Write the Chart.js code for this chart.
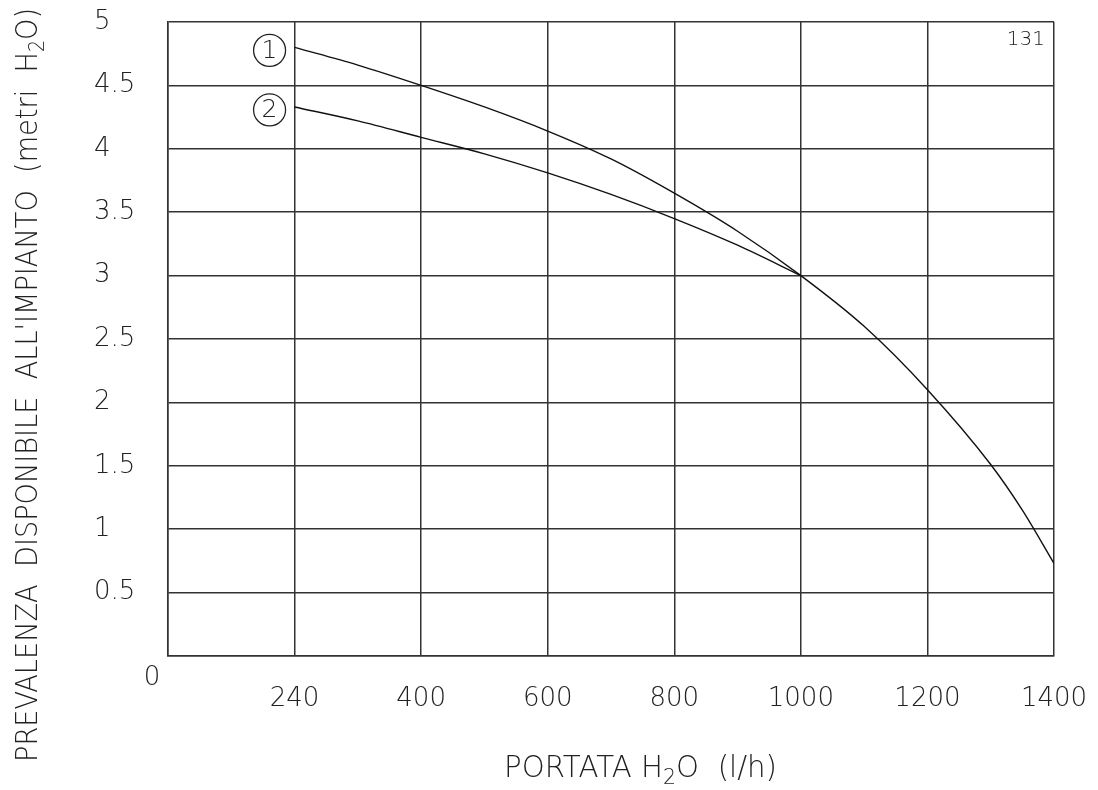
<!DOCTYPE html>
<html>
<head>
<meta charset="utf-8">
<script src="https://cdn.jsdelivr.net/npm/chart.js@4.4.1/dist/chart.umd.min.js"></script>
<style>
  html, body { margin: 0; padding: 0; background: #fff; }
  #wrap { width: 1098px; height: 790px; }
</style>
</head>
<body>
<div id="wrap"><canvas id="graphContainer"></canvas></div>
<script>
// portata (l/h) and prevalenza (m H2O)
const portata = [200, 300, 400, 500, 600, 700, 800, 900, 1000, 1100, 1200, 1300, 1350, 1400];
const curva1 = [4.80, 4.66, 4.50, 4.33, 4.14, 3.92, 3.65, 3.35, 3.00, 2.60, 2.10, 1.51, 1.15, 0.73];
const curva2 = [4.33, 4.22, 4.09, 3.96, 3.81, 3.64, 3.45, 3.24, 3.00];
const curveNames = ["1", "2"];

const xTickLabels = ["", "240", "400", "600", "800", "1000", "1200", "1400"];
const yTickLabels = ["", "0.5", "1", "1.5", "2", "2.5", "3", "3.5", "4", "4.5", "5"];
const originLabel = "0";
const cornerNote = "131";

const FONT = "'DejaVu Sans', 'Noto Sans', sans-serif";
const INK = "#222";
const GRID = "#333";

function toPoints(xs, ys) {
  return ys.map((y, i) => ({ x: xs[i], y: y }));
}

// draw "text H2O text" with a lowered small 2, fitted to a given length
function drawTitle(ctx, parts, x, y, angle, length, size) {
  ctx.save();
  const big = "200 " + size + "px " + FONT;
  const small = "200 " + Math.round(size * 0.7) + "px " + FONT;
  let total = 0;
  parts.forEach((p) => {
    ctx.font = p.sub ? small : big;
    total += ctx.measureText(p.t).width;
  });
  ctx.translate(x, y);
  ctx.rotate(angle);
  ctx.scale(length / total, 1);
  ctx.fillStyle = INK;
  ctx.textBaseline = "alphabetic";
  ctx.textAlign = "left";
  let pos = 0;
  parts.forEach((p) => {
    ctx.font = p.sub ? small : big;
    ctx.fillText(p.t, pos, p.sub ? size * 0.22 : 0);
    pos += ctx.measureText(p.t).width;
  });
  ctx.restore();
}

const decorations = {
  id: "decorations",
  afterDraw(chart) {
    const ctx = chart.ctx;
    const area = chart.chartArea;
    const xs = chart.scales.x;
    const ys = chart.scales.y;

    // circled curve numbers next to the start of each curve
    chart.data.datasets.forEach((ds, i) => {
      const p = ds.data[0];
      const cx = xs.getPixelForValue(p.x) - 25;
      const cy = ys.getPixelForValue(p.y) + 3;
      ctx.save();
      ctx.beginPath();
      ctx.arc(cx, cy, 16, 0, Math.PI * 2);
      ctx.strokeStyle = INK;
      ctx.lineWidth = 1.3;
      ctx.stroke();
      ctx.fillStyle = INK;
      ctx.font = "200 25px " + FONT;
      ctx.textAlign = "center";
      ctx.textBaseline = "middle";
      ctx.fillText(curveNames[i], cx, cy + 1);
      ctx.restore();
    });

    ctx.save();
    ctx.fillStyle = INK;
    ctx.font = "200 26px " + FONT;
    ctx.textAlign = "center";
    ctx.textBaseline = "middle";
    ctx.fillText(originLabel, area.left - 16, area.bottom + 22);
    ctx.font = "200 20px " + FONT;
    ctx.textAlign = "right";
    ctx.textBaseline = "alphabetic";
    ctx.fillText(cornerNote, area.right - 9, area.top + 23);
    ctx.restore();

    drawTitle(ctx, [{ t: "PORTATA H" }, { t: "2", sub: true }, { t: "O  (l/h)" }],
      504, 777, 0, 273, 30);
    drawTitle(ctx, [{ t: "PREVALENZA  DISPONIBILE  ALL'IMPIANTO  (metri  H" }, { t: "2", sub: true }, { t: "O)" }],
      37, 762, -Math.PI / 2, 754, 30);
  }
};

const ctx = document.getElementById("graphContainer").getContext("2d");
new Chart(ctx, {
  type: "line",
  data: {
    datasets: [
      {
        label: "1",
        data: toPoints(portata, curva1),
        borderColor: "#111",
        borderWidth: 1.4,
        pointRadius: 0,
        cubicInterpolationMode: "monotone",
        fill: false
      },
      {
        label: "2",
        data: toPoints(portata, curva2),
        borderColor: "#111",
        borderWidth: 1.4,
        pointRadius: 0,
        cubicInterpolationMode: "monotone",
        fill: false
      }
    ]
  },
  options: {
    responsive: true,
    maintainAspectRatio: false,
    animation: false,
    layout: { padding: { top: 22, right: 44, left: 94, bottom: 0 } },
    plugins: {
      legend: { display: false },
      tooltip: { enabled: false }
    },
    scales: {
      x: {
        type: "linear",
        min: 0,
        max: 1400,
        ticks: {
          stepSize: 200,
          padding: 28,
          color: INK,
          font: { family: FONT, size: 26, weight: 200 },
          maxRotation: 0,
          autoSkip: false,
          callback: (value, index) => xTickLabels[index]
        },
        grid: { color: GRID, lineWidth: 1.5, drawTicks: false },
        border: { color: GRID, width: 1.5 },
        afterFit: (scale) => {
          scale.height = 134;
          scale.paddingLeft = 0;
          scale.paddingRight = 0;
        }
      },
      y: {
        min: 0,
        max: 5,
        ticks: {
          stepSize: 0.5,
          padding: 0,
          crossAlign: "far",
          color: INK,
          font: { family: FONT, size: 26, weight: 200 },
          autoSkip: false,
          callback: (value, index) => yTickLabels[index]
        },
        grid: { color: GRID, lineWidth: 1.5, drawTicks: false },
        border: { color: GRID, width: 1.5 },
        afterFit: (scale) => {
          scale.width = 74;
          scale.paddingTop = 0;
          scale.paddingBottom = 0;
        }
      }
    }
  },
  plugins: [decorations]
});
</script>
</body>
</html>
